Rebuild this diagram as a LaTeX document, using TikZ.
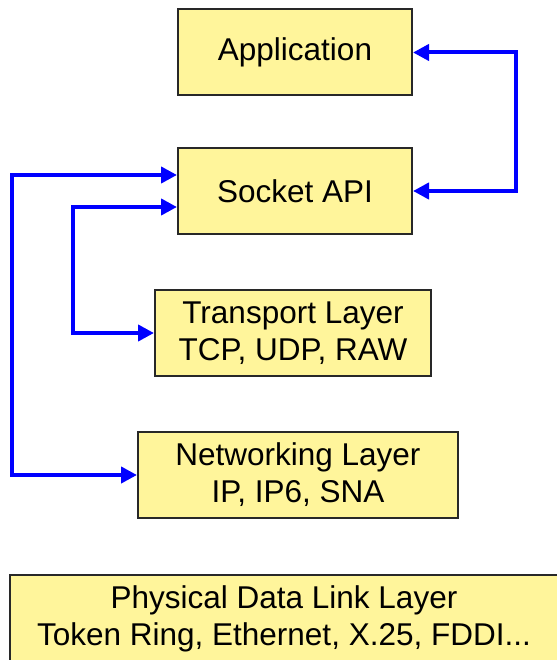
\documentclass[tikz,border=0pt]{standalone}
\usepackage{fontspec}
\setmainfont{Liberation Sans}
\usetikzlibrary{arrows.meta}
\definecolor{boxfill}{RGB}{255,245,155}
\definecolor{boxline}{RGB}{40,40,40}
\definecolor{linkblue}{RGB}{0,0,255}
\begin{document}
\begin{tikzpicture}[x=1pt,y=-1pt,
    layer/.style={draw=boxline,fill=boxfill,line width=2pt,inner sep=0pt,align=center,
      font=\fontsize{31.5}{37}\selectfont,minimum height=86pt},
    link/.style={draw=linkblue,line width=4pt,
      {Triangle[length=16pt,width=16pt]}-{Triangle[length=16pt,width=16pt]}}]
    \useasboundingbox (0,0) rectangle (556,660);
    \node[layer,minimum width=234pt] (app) at (295,52.5) {Application};
    \node[layer,minimum width=234pt] (sock) at (295,191) {Socket API};
    \node[layer,minimum width=276pt] (trans) at (293,333) {Transport Layer\\TCP, UDP, RAW};
    \node[layer,minimum width=320pt] (net) at (298,475) {Networking Layer\\IP, IP6, SNA};
    \node[layer,minimum width=548pt,minimum height=88pt] (phys) at (284,619) {Physical Data Link Layer\\Token Ring, Ethernet, X.25, FDDI...};
    % links to the socket layer
    \draw[link] (sock.east) -- ++(103,0) |- (app.east);
    \draw[link] ([yshift=16pt]sock.west) -| ([xshift=-125pt]net.west) -- (net.west);
    \draw[link] ([yshift=-16pt]sock.west) -| ([xshift=-81pt]trans.west) -- (trans.west);
\end{tikzpicture}
\end{document}
